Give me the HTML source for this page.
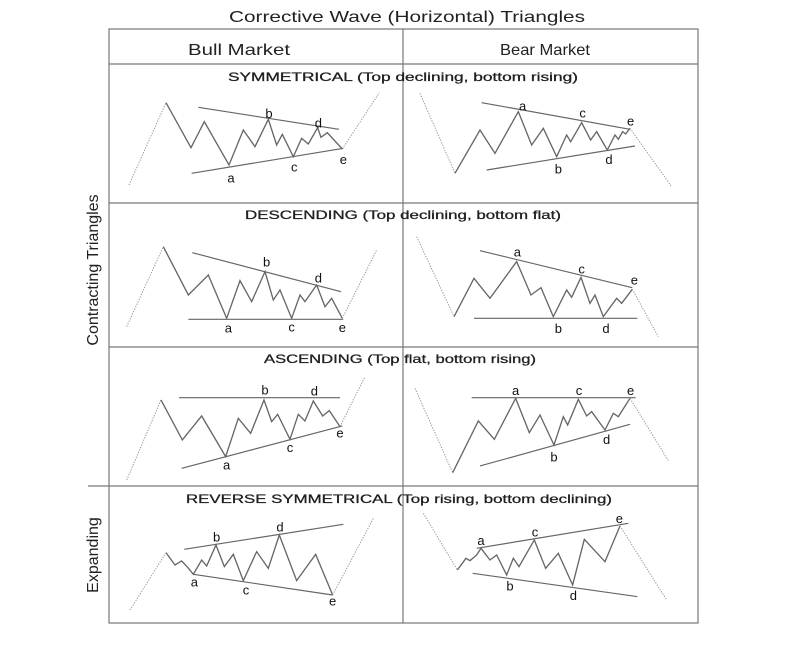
<!DOCTYPE html>
<html><head><meta charset="utf-8"><style>
html,body{margin:0;padding:0;background:#fff;}
svg{display:block;}
text{font-family:"Liberation Sans",sans-serif;fill:#222;}
.w{fill:none;stroke:#666;stroke-width:4;stroke-linejoin:miter;}
.d{fill:none;stroke:#999;stroke-width:3;stroke-dasharray:4 4;}
.l{fill:none;stroke:#666;stroke-width:3.5;}
.lb{font-size:39px;text-anchor:middle;fill:#111;}
</style></head><body>
<svg width="791" height="647" viewBox="0 0 791 647" xmlns="http://www.w3.org/2000/svg">
<rect width="791" height="647" fill="#fff"/>
<text x="229" y="22" font-size="16" textLength="356" lengthAdjust="spacingAndGlyphs">Corrective Wave (Horizontal) Triangles</text>
<g stroke="#777" stroke-width="1.2" fill="none">
<rect x="109" y="29" width="589" height="594"/>
<line x1="109" y1="64" x2="698" y2="64"/>
<line x1="109" y1="203" x2="698" y2="203"/>
<line x1="109" y1="347" x2="698" y2="347"/>
<line x1="88" y1="486" x2="698" y2="486"/>
<line x1="403" y1="29" x2="403" y2="623"/>
</g>
<text x="188" y="55" font-size="16" textLength="102" lengthAdjust="spacingAndGlyphs">Bull Market</text>
<text x="500" y="55" font-size="16" textLength="90" lengthAdjust="spacingAndGlyphs">Bear Market</text>
<g font-size="12" fill="#111" stroke="#111" stroke-width="0.25">
<text x="228" y="81" textLength="350" lengthAdjust="spacingAndGlyphs">SYMMETRICAL (Top declining, bottom rising)</text>
<text x="245" y="219" textLength="316" lengthAdjust="spacingAndGlyphs">DESCENDING (Top declining, bottom flat)</text>
<text x="264" y="363" textLength="272" lengthAdjust="spacingAndGlyphs">ASCENDING (Top flat, bottom rising)</text>
<text x="186" y="503" textLength="426" lengthAdjust="spacingAndGlyphs">REVERSE SYMMETRICAL  (Top rising, bottom declining)</text>
</g>
<text transform="translate(98,270) rotate(-90)" font-size="16" text-anchor="middle">Contracting Triangles</text>
<text transform="translate(98,555) rotate(-90)" font-size="16" text-anchor="middle">Expanding</text>

<g transform="translate(80,20) scale(0.3333)">
<polyline class="d" points="147,495 258,248"/>
<polyline class="w" points="258,248 333,383 373,305 447,435 490,330 525,380 565,298 590,375 607,343 640,410 665,355 685,372 713,323 723,352 742,338 787,387"/>
<polyline class="d" points="787,387 898,218"/>
<line class="l" x1="355" y1="262" x2="777" y2="328"/><line class="l" x1="335" y1="460" x2="790" y2="385"/>
<text class="lb" x="567" y="294">b</text><text class="lb" x="715" y="322">d</text><text class="lb" x="453" y="487">a</text><text class="lb" x="643" y="454">c</text><text class="lb" x="790" y="432">e</text>
</g>
<g transform="translate(400,60) scale(0.3333)">
<polyline class="d" points="60,100 165,340"/>
<polyline class="w" points="165,340 240,210 285,280 355,155 395,255 430,205 470,290 500,225 512,245 545,188 572,240 590,215 622,270 645,225 655,238 668,215 677,222 690,205"/>
<polyline class="d" points="690,205 815,380"/>
<line class="l" x1="245" y1="128" x2="690" y2="208"/><line class="l" x1="260" y1="330" x2="705" y2="258"/>
<text class="lb" x="368" y="152">a</text><text class="lb" x="548" y="172">c</text><text class="lb" x="692" y="197">e</text><text class="lb" x="475" y="340">b</text><text class="lb" x="627" y="312">d</text>

<polyline class="d" points="50,530 162,770"/>
<polyline class="w" points="162,770 222,655 270,715 350,605 393,705 423,683 460,770 500,690 515,712 543,652 570,730 585,705 610,770 650,715 665,730 697,688"/>
<polyline class="d" points="697,688 775,830"/>
<line class="l" x1="240" y1="572" x2="697" y2="683"/><line class="l" x1="222" y1="775" x2="712" y2="775"/>
<text class="lb" x="352" y="589">a</text><text class="lb" x="545" y="640">c</text><text class="lb" x="703" y="674">e</text><text class="lb" x="475" y="819">b</text><text class="lb" x="618" y="819">d</text>
</g>
<g transform="translate(105,200) scale(0.3333)">
<polyline class="d" points="65,380 175,140"/>
<polyline class="w" points="175,140 250,285 310,225 365,355 405,242 440,305 480,215 505,300 525,270 560,355 585,285 600,305 635,255 660,320 680,295 712,355"/>
<polyline class="d" points="712,355 815,150"/>
<line class="l" x1="262" y1="158" x2="708" y2="275"/><line class="l" x1="250" y1="358" x2="715" y2="358"/>
<text class="lb" x="485" y="200">b</text><text class="lb" x="640" y="248">d</text><text class="lb" x="370" y="397">a</text><text class="lb" x="560" y="394">c</text><text class="lb" x="712" y="396">e</text>

<polyline class="d" points="65,840 168,600"/>
<polyline class="w" points="168,600 232,720 290,648 362,770 400,655 437,700 477,600 500,665 518,643 555,718 580,643 600,663 625,603 653,648 673,632 705,680"/>
<polyline class="d" points="705,680 780,530"/>
<line class="l" x1="222" y1="593" x2="705" y2="593"/><line class="l" x1="230" y1="805" x2="712" y2="678"/>
<text class="lb" x="480" y="584">b</text><text class="lb" x="628" y="586">d</text><text class="lb" x="365" y="809">a</text><text class="lb" x="555" y="756">c</text><text class="lb" x="705" y="712">e</text>
</g>
<g transform="translate(400,340) scale(0.3333)">
<polyline class="d" points="45,145 158,398"/>
<polyline class="w" points="158,398 235,243 283,298 347,175 388,278 420,225 462,315 490,230 503,255 535,178 560,228 575,215 615,270 640,220 655,230 690,175"/>
<polyline class="d" points="690,175 805,362"/>
<line class="l" x1="215" y1="173" x2="707" y2="173"/><line class="l" x1="240" y1="378" x2="690" y2="253"/>
<text class="lb" x="347" y="165">a</text><text class="lb" x="537" y="165">c</text><text class="lb" x="692" y="165">e</text><text class="lb" x="462" y="364">b</text><text class="lb" x="620" y="312">d</text>

<polyline class="d" points="70,520 172,690"/>
<polyline class="w" points="172,690 198,655 210,662 230,645 243,625 270,660 290,645 320,705 340,655 357,680 380,640 403,600 437,685 475,640 518,735 553,598 615,665 660,558"/>
<polyline class="d" points="660,558 800,780"/>
<line class="l" x1="230" y1="625" x2="685" y2="550"/><line class="l" x1="218" y1="700" x2="712" y2="770"/>
<text class="lb" x="243" y="615">a</text><text class="lb" x="405" y="589">c</text><text class="lb" x="658" y="549">e</text><text class="lb" x="330" y="752">b</text><text class="lb" x="520" y="780">d</text>
</g>
<g transform="translate(60,460) scale(0.3333)">
<polyline class="d" points="210,450 318,278"/>
<polyline class="w" points="318,278 345,315 365,303 383,322 400,343 425,300 440,318 468,255 493,320 520,283 550,362 590,275 625,325 658,225 710,362 767,283 818,405"/>
<polyline class="d" points="818,405 940,175"/>
<line class="l" x1="373" y1="268" x2="850" y2="193"/><line class="l" x1="400" y1="343" x2="818" y2="405"/>
<text class="lb" x="470" y="245">b</text><text class="lb" x="660" y="214">d</text><text class="lb" x="403" y="379">a</text><text class="lb" x="558" y="404">c</text><text class="lb" x="818" y="437">e</text>
</g>
</svg>
</body></html>
